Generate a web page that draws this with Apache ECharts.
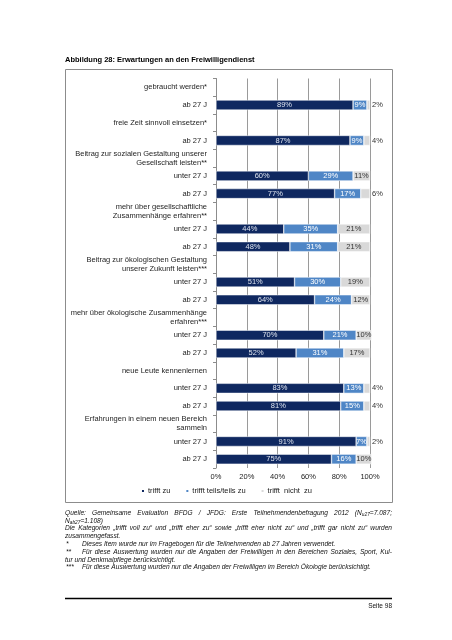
<!DOCTYPE html>
<html><head><meta charset="utf-8">
<script src="https://cdn.jsdelivr.net/npm/echarts@6/dist/echarts.min.js"></script>
<style>html,body{margin:0;padding:0;background:#fff}#c{width:452px;height:640px}</style>
</head><body><div id="c"></div>
<script>
const categories = [
  'gebraucht werden*', 'ab 27 J',
  'freie Zeit sinnvoll einsetzen*', 'ab 27 J',
  'Beitrag zur sozialen Gestaltung unserer\nGesellschaft leisten**', 'unter 27 J', 'ab 27 J',
  'mehr über gesellschaftliche\nZusammenhänge erfahren**', 'unter 27 J', 'ab 27 J',
  'Beitrag zur ökologischen Gestaltung\nunserer Zukunft leisten***', 'unter 27 J', 'ab 27 J',
  'mehr über ökologische Zusammenhänge\nerfahren***', 'unter 27 J', 'ab 27 J',
  'neue Leute kennenlernen', 'unter 27 J', 'ab 27 J',
  'Erfahrungen in einem neuen Bereich\nsammeln', 'unter 27 J', 'ab 27 J'
];
const trifftZu    = [null,89,null,87,null,60,77,null,44,48,null,51,64,null,70,52,null,83,81,null,91,75];
const teilsTeils  = [null, 9,null, 9,null,29,17,null,35,31,null,30,24,null,21,31,null,13,15,null, 7,16];
const trifftNicht = [null, 2,null, 4,null,11, 6,null,21,21,null,19,12,null,10,17,null, 4, 4,null, 2,10];
const xTickLabels = ['0%','20%','40%','60%','80%','100%'];
const legendNames = ['trifft zu', 'trifft teils/teils zu', 'trifft  nicht  zu'];
const titleText = 'Abbildung 28: Erwartungen an den Freiwilligendienst';
const footLines = [
  {m:'', t:'Quelle: Gemeinsame Evaluation BFDG / JFDG: Erste Teilnehmendenbefragung 2012 (N_{u27}=7.087;', j:true},
  {m:'', t:'N_{ab27}=1.108)', j:false},
  {m:'', t:'Die Kategorien „trifft voll zu“ und „trifft eher zu“ sowie „trifft eher nicht zu“ und „trifft gar nicht zu“ wurden', j:true},
  {m:'', t:'zusammengefasst.', j:false},
  {m:'*', t:'Dieses Item wurde nur im Fragebogen für die Teilnehmenden ab 27 Jahren verwendet.', j:false},
  {m:'**', t:'Für diese Auswertung wurden nur die Angaben der Freiwilligen in den Bereichen Soziales, Sport, Kul-', j:true},
  {m:'', t:'tur und Denkmalpflege berücksichtigt.', j:false},
  {m:'***', t:'Für diese Auswertung wurden nur die Angaben der Freiwilligen im Bereich Ökologie berücksichtigt.', j:false}
];
const pageLabel = 'Seite 98';

const FF = '"Liberation Sans", Arial, sans-serif';
const COLORS = ['#0f2860', '#4f86c6', '#d9d9d9'];
const FS = 7.5;

const mctx = document.createElement('canvas').getContext('2d');
function measure(t, size, italic) {
  mctx.font = (italic ? 'italic ' : '') + 'normal ' + size + 'px ' + FF;
  return mctx.measureText(t).width;
}
function parseWord(word) {
  const frags = []; const re = /_\{([^}]*)\}/g; let last = 0, m;
  while ((m = re.exec(word))) {
    if (m.index > last) frags.push({t: word.slice(last, m.index), sub: false});
    frags.push({t: m[1], sub: true}); last = re.lastIndex;
  }
  if (last < word.length) frags.push({t: word.slice(last), sub: false});
  return frags;
}
const FNS = 6.6, FSUB = 4.8;
function layoutLine(text, x0, x1, y, justify, els) {
  const words = text.split(' ').filter(s => s.length);
  const ws = words.map(wd => {
    const fr = parseWord(wd); let tot = 0;
    fr.forEach(f => { f.size = f.sub ? FSUB : FNS; f.w = measure(f.t, f.size, true); tot += f.w; });
    return {fr, w: tot};
  });
  const sum = ws.reduce((a, b) => a + b.w, 0);
  const space = measure(' ', FNS, true);
  const gap = (justify && ws.length > 1) ? (x1 - x0 - sum) / (ws.length - 1) : space;
  let x = x0;
  ws.forEach(wd => {
    let xx = x;
    wd.fr.forEach(f => {
      els.push({type: 'text', x: xx, y: y + (f.sub ? 1.7 : 0), silent: true,
        style: {text: f.t, fontSize: f.size, fontFamily: FF, fontStyle: 'italic', fill: '#111', align: 'left', verticalAlign: 'middle'}});
      xx += f.w;
    });
    x += wd.w + gap;
  });
}

const graphics = [];
graphics.push({type: 'text', x: 65, y: 60, style: {text: titleText, fontSize: 7.5, fontWeight: 'bold', fontFamily: FF, fill: '#000', verticalAlign: 'middle'}});
graphics.push({type: 'rect', shape: {x: 65.5, y: 69.5, width: 327, height: 433}, style: {fill: 'none', stroke: '#8c8c8c', lineWidth: 1}, silent: true});
const TX0 = 65, TX1 = 392, IND = 82;
footLines.forEach((ln, i) => {
  const y = 513 + i * 7.8;
  const hasMark = ln.m !== '';
  if (hasMark) graphics.push({type: 'text', x: 66, y, style: {text: ln.m, fontSize: FNS, fontFamily: FF, fontStyle: 'italic', fill: '#111', verticalAlign: 'middle'}});
  layoutLine(ln.t, hasMark ? IND : TX0, TX1, y, ln.j, graphics);
});
graphics.push({type: 'line', shape: {x1: 65, y1: 598.5, x2: 392, y2: 598.5}, style: {stroke: '#000', lineWidth: 1.3}});
graphics.push({type: 'text', x: 392, y: 606, style: {text: pageLabel, fontSize: 6.5, fontFamily: FF, fill: '#111', align: 'right', verticalAlign: 'middle'}});

function grayData(arr) {
  return arr.map(v => v == null ? null : (v < 8 ? {value: v, label: {position: 'right', distance: 2}} : v));
}
const labelBase = {show: true, position: 'inside', formatter: '{c}%', fontSize: FS, fontFamily: FF};

const chart = echarts.init(document.getElementById('c'), null, {renderer: 'canvas'});
chart.setOption({
  animation: false,
  backgroundColor: '#fff',
  color: COLORS,
  textStyle: {fontFamily: FF},
  grid: {left: 216, right: 82, top: 78.5, bottom: 172, containLabel: false},
  xAxis: {
    type: 'value', min: 0, max: 100, interval: 20,
    axisLine: {show: false}, axisTick: {show: false},
    axisLabel: {fontSize: FS, color: '#222', margin: 5, fontFamily: FF,
      formatter: v => xTickLabels[Math.round(v / 20)]},
    splitLine: {show: true, lineStyle: {color: '#9a9a9a', width: 1}}
  },
  yAxis: {
    type: 'category', inverse: true, data: categories,
    axisLine: {show: true, lineStyle: {color: '#8c8c8c'}},
    axisTick: {show: true, length: 3, lineStyle: {color: '#8c8c8c'}},
    axisLabel: {fontSize: FS, color: '#1e1e1e', margin: 9, lineHeight: 9, fontFamily: FF, align: 'right'}
  },
  legend: {
    data: legendNames, left: 'center', top: 487, padding: [0, 0, 0, 5],
    icon: 'rect', itemWidth: 4, itemHeight: 4, itemGap: 14,
    textStyle: {fontSize: FS, color: '#222', fontFamily: FF, padding: [0, 0, 0, -2]}
  },
  series: [
    {name: legendNames[0], type: 'bar', stack: 'all', barWidth: 10, clip: false, data: trifftZu,
      itemStyle: {color: COLORS[0], borderColor: '#fff', borderWidth: 0.5},
      label: Object.assign({}, labelBase, {color: '#dde3ee'})},
    {name: legendNames[1], type: 'bar', stack: 'all', barWidth: 10, clip: false, data: teilsTeils,
      itemStyle: {color: COLORS[1], borderColor: '#fff', borderWidth: 0.5},
      label: Object.assign({}, labelBase, {color: '#ffffff'})},
    {name: legendNames[2], type: 'bar', stack: 'all', barWidth: 10, clip: false, data: grayData(trifftNicht),
      itemStyle: {color: COLORS[2], borderColor: '#fff', borderWidth: 0.5},
      label: Object.assign({}, labelBase, {color: '#333'})}
  ],
  graphic: graphics
});
</script>
</body></html>
